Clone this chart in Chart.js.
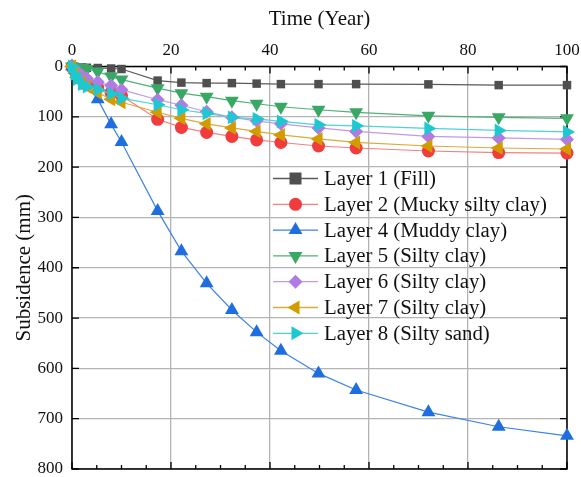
<!DOCTYPE html>
<html>
<head>
<meta charset="utf-8">
<script src="https://cdn.jsdelivr.net/npm/chart.js@4/dist/chart.umd.min.js"></script>
<style>
html,body{margin:0;padding:0;background:#fff;}
#wrap{width:581px;height:477px;position:relative;}
</style>
</head>
<body>
<div id="wrap"><canvas id="c" width="581" height="477"></canvas></div>
<script>
const years  = [0, 0.5, 1, 2, 3, 5.2, 7.9, 10, 17.3, 22.1, 27.2, 32.3, 37.3, 42.2, 49.8, 57.4, 72, 86.2, 100];
const layer1 = [0, 1, 1.5, 2, 2.5, 3, 4, 5, 28, 32, 33, 33, 34, 35, 35, 35, 35.5, 37, 37];
const layer2 = [0, 8, 15, 25, 32, 42, 52, 58, 105, 121, 131, 139, 146, 151, 158, 162, 168, 171, 172];
const layer4 = [0, 6, 12, 25, 38, 65, 115, 150, 287, 367, 431, 484, 528, 565, 610, 643, 687, 716, 734];
const layer5 = [0, 1, 2, 3, 5, 10, 20, 26, 43, 53, 60, 68, 74, 80, 86, 91, 98, 101, 103];
const layer6 = [0, 5, 10, 18, 24, 31, 38, 46, 66, 77, 90, 101, 108, 114, 122, 129, 139, 142, 145];
const layer7 = [0, 10, 22, 32, 40, 52, 65, 71, 91, 103, 114, 122, 129, 136, 144, 151, 158, 162, 164];
const layer8 = [0, 15, 25, 35, 40, 46, 54, 63, 76, 86, 93, 101, 104, 109, 116, 118, 123, 127, 130];
const xTicks = [0, 20, 40, 60, 80, 100];
const yTicks = [0, 100, 200, 300, 400, 500, 600, 700, 800];

const series = [
  {label:'Layer 1 (Fill)',              data:layer1, mk:'#4f4f4f', ln:'#5a5a5a', style:'rect',     rot:0,   r:6},
  {label:'Layer 2 (Mucky silty clay)',  data:layer2, mk:'#f03c3c', ln:'#f58080', style:'circle',   rot:0,   r:6.5},
  {label:'Layer 4 (Muddy clay)',        data:layer4, mk:'#1f6ee0', ln:'#3d82e6', style:'triangle', rot:0,   r:8},
  {label:'Layer 5 (Silty clay)',        data:layer5, mk:'#3aa865', ln:'#4fb078', style:'triangle', rot:180, r:8},
  {label:'Layer 6 (Silty clay)',        data:layer6, mk:'#b17ce2', ln:'#c09ae8', style:'rectRot',  rot:0,   r:7},
  {label:'Layer 7 (Silty clay)',        data:layer7, mk:'#d29c00', ln:'#d9ad3a', style:'triangle', rot:-90, r:8},
  {label:'Layer 8 (Silty sand)',        data:layer8, mk:'#1ec8d0', ln:'#4fd2d8', style:'triangle', rot:90,  r:8}
];

const datasets = series.map((s, i) => ({
  label: s.label,
  data: years.map((x, j) => ({x: x, y: s.data[j]})),
  borderColor: s.ln,
  borderWidth: 1.2,
  backgroundColor: s.mk,
  pointBackgroundColor: s.mk,
  pointBorderColor: s.mk,
  pointBorderWidth: 0,
  pointStyle: s.style,
  pointRotation: s.rot,
  pointRadius: s.r,
  tension: 0,
  fill: false,
  clip: false,
  order: series.length - i
}));

function drawMarker(ctx, style, x, y, r, rot, color){
  ctx.save();
  ctx.translate(x, y);
  ctx.rotate(rot * Math.PI / 180);
  ctx.fillStyle = color;
  ctx.beginPath();
  if (style === 'rect') {
    ctx.rect(-r, -r, 2*r, 2*r);
  } else if (style === 'circle') {
    ctx.arc(0, 0, r, 0, Math.PI*2);
  } else if (style === 'rectRot') {
    ctx.moveTo(0,-r); ctx.lineTo(r,0); ctx.lineTo(0,r); ctx.lineTo(-r,0); ctx.closePath();
  } else {
    const rr = r;
    ctx.moveTo(0, -rr);
    ctx.lineTo(rr*Math.cos(Math.PI/6), rr*0.5);
    ctx.lineTo(-rr*Math.cos(Math.PI/6), rr*0.5);
    ctx.closePath();
  }
  ctx.fill();
  ctx.restore();
}

const framePlugin = {
  id: 'frame',
  beforeDatasetsDraw(chart){
    const {ctx, chartArea: a, scales} = chart;
    const xs = scales.x, ys = scales.y;
    ctx.save();
    ctx.strokeStyle = '#000';
    ctx.lineWidth = 1.5;
    ctx.strokeRect(a.left, a.top, a.right - a.left, a.bottom - a.top);
    ctx.lineWidth = 1.3;
    ctx.beginPath();
    for (let v = 0; v <= 100; v += 5) {
      const px = xs.getPixelForValue(v);
      const len = (v % 20 === 0) ? 7 : 4;
      ctx.moveTo(px, a.top); ctx.lineTo(px, a.top + len);
      ctx.moveTo(px, a.bottom); ctx.lineTo(px, a.bottom - len);
    }
    for (const v of yTicks) {
      const py = ys.getPixelForValue(v);
      ctx.moveTo(a.left, py); ctx.lineTo(a.left + 7, py);
      ctx.moveTo(a.right, py); ctx.lineTo(a.right - 7, py);
    }
    ctx.stroke();
    ctx.restore();
  },
  afterDraw(chart){
    const ctx = chart.ctx;
    const x0 = 273, x1 = 318, tx = 324, y0 = 178.5, dy = 25.8;
    ctx.save();
    ctx.font = '20.8px "Liberation Serif"';
    ctx.textBaseline = 'middle';
    ctx.textAlign = 'left';
    series.forEach((s, i) => {
      const y = y0 + i * dy;
      ctx.strokeStyle = s.ln;
      ctx.lineWidth = 1.3;
      ctx.beginPath(); ctx.moveTo(x0, y); ctx.lineTo(x1, y); ctx.stroke();
      drawMarker(ctx, s.style, (x0 + x1) / 2, y, s.r, s.rot, s.mk);
      ctx.fillStyle = '#111';
      ctx.fillText(s.label, tx, y + 1);
    });
    ctx.restore();
  }
};

new Chart(document.getElementById('c'), {
  type: 'line',
  data: { datasets },
  plugins: [framePlugin],
  options: {
    responsive: false,
    animation: false,
    devicePixelRatio: 1,
    layout: { padding: { top: 0, left: 0, right: 14, bottom: 8 } },
    plugins: { legend: { display: false }, tooltip: { enabled: false } },
    scales: {
      x: {
        type: 'linear',
        position: 'top',
        min: 0, max: 100,
        afterBuildTicks(scale){ scale.ticks = xTicks.map(v => ({value: v})); },
        afterFit(scale){ scale.height = 66.5; scale.paddingLeft = 0; scale.paddingRight = 0; },
        ticks: { color: '#111', font: { family: 'Liberation Serif', size: 17 }, padding: 6, maxRotation: 0 },
        grid: { color: '#b4b4b4', lineWidth: 1.3, drawTicks: false },
        border: { display: false },
        title: { display: true, text: 'Time (Year)', color: '#111', font: { family: 'Liberation Serif', size: 21 }, padding: { top: 7, bottom: 0 } }
      },
      y: {
        type: 'linear',
        reverse: true,
        min: 0, max: 800,
        afterBuildTicks(scale){ scale.ticks = yTicks.map(v => ({value: v})); },
        afterFit(scale){ scale.width = 72; scale.paddingTop = 0; scale.paddingBottom = 0; },
        ticks: { color: '#111', font: { family: 'Liberation Serif', size: 17 }, padding: 9 },
        grid: { color: '#b4b4b4', lineWidth: 1.3, drawTicks: false },
        border: { display: false },
        title: { display: true, text: 'Subsidence (mm)', color: '#111', font: { family: 'Liberation Serif', size: 21 }, padding: { top: 12, bottom: 0 } }
      }
    }
  }
});
</script>
</body>
</html>
